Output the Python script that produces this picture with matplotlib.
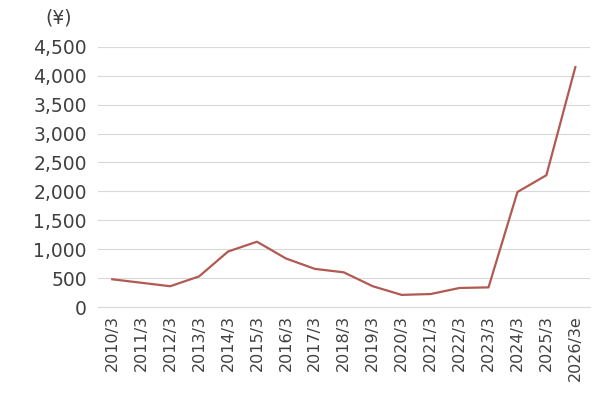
import matplotlib.pyplot as plt
import matplotlib.ticker as mticker

periods = ["2010/3", "2011/3", "2012/3", "2013/3", "2014/3", "2015/3", "2016/3",
           "2017/3", "2018/3", "2019/3", "2020/3", "2021/3", "2022/3", "2023/3",
           "2024/3", "2025/3", "2026/3e"]
values = [480, 420, 360, 530, 960, 1130, 840, 660, 600, 360, 210, 225, 330, 340,
          1990, 2280, 4150]

plt.rcParams["font.family"] = ["DejaVu Sans", "Noto Sans CJK JP"]

fig = plt.figure(figsize=(6, 4.04), dpi=100)
ax = fig.add_axes([0.163, 0.24, 0.82, 0.644])
x = range(len(periods))
ax.plot(x, values, color="#b05a52", linewidth=1.6)

ax.set_xlim(-0.5, len(periods) - 0.5)
ax.set_ylim(0, 4500)
ax.yaxis.set_major_locator(mticker.MultipleLocator(500))
ax.yaxis.set_major_formatter(mticker.FuncFormatter(lambda v, _: f"{int(v):,}"))
ax.set_xticks(list(x))
ax.set_xticklabels(periods, rotation=90, fontsize=11.5, color="#404040")
ax.tick_params(axis="y", labelsize=13.5, colors="#404040", length=0, pad=8)
ax.tick_params(axis="x", length=0, pad=6)
ax.grid(axis="y", color="#d9d9d9", linewidth=0.8)
ax.set_axisbelow(True)
for s in ["top", "right", "left"]:
    ax.spines[s].set_visible(False)
ax.spines["bottom"].set_color("#d9d9d9")
fig.text(0.075, 0.955, "(¥)", fontsize=13.5, color="#404040", va="center")

fig.savefig("out.png", dpi=100)
